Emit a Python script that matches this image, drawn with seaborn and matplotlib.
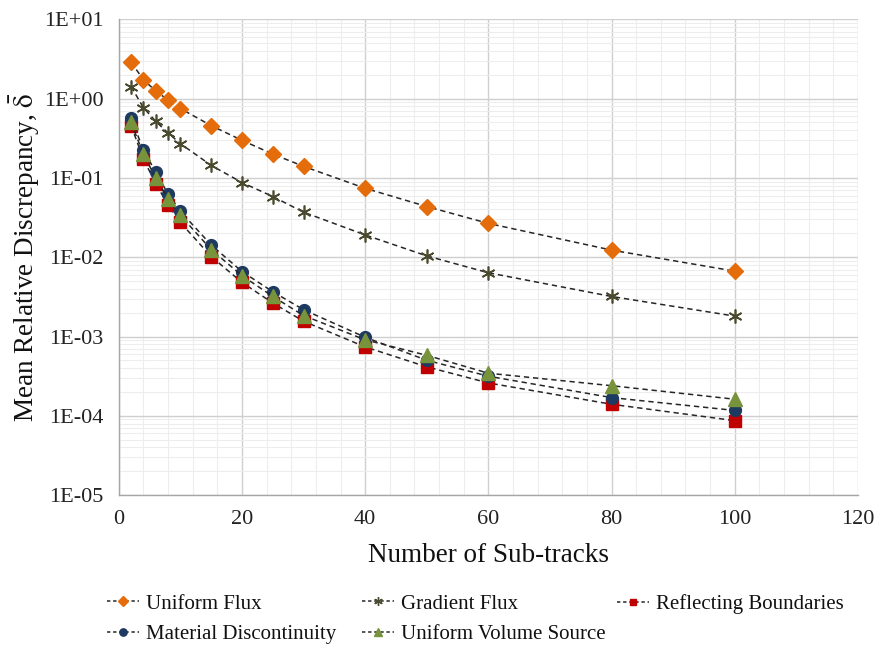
import numpy as np
import pandas as pd
import matplotlib
matplotlib.use("Agg")
import matplotlib.pyplot as plt
from matplotlib.ticker import FixedLocator, FuncFormatter, LogLocator, NullFormatter
from matplotlib.lines import Line2D
import seaborn as sns

# Number of sub-tracks
sub_tracks = [2, 4, 6, 8, 10, 15, 20, 25, 30, 40, 50, 60, 80, 100]

# Mean relative discrepancy for each test case
uniform_flux = [2.89, 1.73, 1.25, 0.96, 0.75, 0.457, 0.298, 0.20, 0.14,
                0.074, 0.0436, 0.0267, 0.0123, 0.00668]
gradient_flux = [1.42, 0.77, 0.518, 0.369, 0.271, 0.144, 0.0875, 0.0583, 0.037,
                 0.0191, 0.0104, 0.00637, 0.0032, 0.00181]
reflecting_boundaries = [0.457, 0.174, 0.0848, 0.0457, 0.0275, 0.0102, 0.00482,
                         0.00265, 0.00156, 0.00074, 0.000415, 0.00026, 0.00014, 0.000087]
material_discontinuity = [0.565, 0.227, 0.118, 0.063, 0.0379, 0.0143, 0.0066,
                          0.00368, 0.00218, 0.00098, 0.000502, 0.000316, 0.00017, 0.000117]
uniform_volume_source = [0.50, 0.20, 0.10, 0.0543, 0.0337, 0.0125, 0.00586,
                         0.00321, 0.00184, 0.00091, 0.00058, 0.000345, 0.00024, 0.000162]

series_names = ["Uniform Flux", "Gradient Flux", "Reflecting Boundaries",
                "Material Discontinuity", "Uniform Volume Source"]
series_values = [uniform_flux, gradient_flux, reflecting_boundaries,
                 material_discontinuity, uniform_volume_source]

styles = {
    "Uniform Flux": dict(marker="D", mfc="#E46C0A", mec="#E46C0A", ms=8.5, mew=1),
    "Gradient Flux": dict(marker=(6, 2, 0), mfc="#4A4A2E", mec="#4A4A2E", ms=10, mew=1.2),
    "Reflecting Boundaries": dict(marker="s", mfc="#C00000", mec="#C00000", ms=8, mew=1),
    "Material Discontinuity": dict(marker="o", mfc="#1F3A60", mec="#1F3A60", ms=8.5, mew=1),
    "Uniform Volume Source": dict(marker="^", mfc="#77933C", mec="#77933C", ms=9.5, mew=1),
}

df = pd.DataFrame({
    "x": np.tile(sub_tracks, len(series_names)),
    "y": np.concatenate(series_values),
    "case": np.repeat(series_names, len(sub_tracks)),
})

sns.set_theme(style="white")
plt.rcParams["font.family"] = ["Liberation Serif", "DejaVu Serif"]
plt.rcParams["mathtext.fontset"] = "stix"

fig = plt.figure(figsize=(8.77, 6.46), dpi=100)
ax = fig.add_axes([0.1354, 0.2335, 0.8429, 0.7366])

line_color = "#262626"
for name in series_names:
    st = styles[name]
    sns.lineplot(data=df[df["case"] == name], x="x", y="y", ax=ax,
                 color=line_color, linestyle=(0, (3.5, 2.5)), linewidth=1.1,
                 marker=st["marker"], markersize=st["ms"],
                 markerfacecolor=st["mfc"], markeredgecolor=st["mec"],
                 markeredgewidth=st["mew"], legend=False, zorder=3)

ax.set_yscale("log")
ax.set_xlim(0, 120)
ax.set_ylim(1e-5, 1e1)

ax.xaxis.set_major_locator(FixedLocator(np.arange(0, 121, 20)))
ax.xaxis.set_minor_locator(FixedLocator(np.arange(0, 121, 4)))
ax.yaxis.set_major_locator(LogLocator(base=10, numticks=10))
ax.yaxis.set_minor_locator(LogLocator(base=10, subs=np.arange(2, 10), numticks=100))
ax.yaxis.set_minor_formatter(NullFormatter())
ax.yaxis.set_major_formatter(FuncFormatter(
    lambda v, p: "1E{:+03d}".format(int(round(np.log10(v))))))

ax.grid(True, which="major", color="#CFCFCF", linewidth=1.0, zorder=0)
ax.grid(True, which="minor", color="#EDEDED", linewidth=0.8, zorder=0)
ax.set_axisbelow(True)

for side in ["top", "right"]:
    ax.spines[side].set_visible(False)
for side in ["left", "bottom"]:
    ax.spines[side].set_color("#A6A6A6")
    ax.spines[side].set_linewidth(1.0)

ax.tick_params(axis="both", which="major", direction="out", length=5, width=1,
               color="#A6A6A6", labelsize=16, labelcolor="#222222", pad=6)
ax.tick_params(axis="both", which="minor", length=0)

ax.set_xlabel("Number of Sub-tracks", fontsize=19.5, color="#111111", labelpad=10)
ax.set_ylabel(r"Mean Relative Discrepancy, $\bar{\mathrm{\delta}}$", fontsize=19.5,
              color="#111111", labelpad=1)

# Legend: three columns placed at fixed positions, filled row by row
handles = {}
for name in series_names:
    st = styles[name]
    handles[name] = Line2D([], [], color=line_color, linestyle=(0, (2.2, 1.8)),
                           linewidth=1.1, marker=st["marker"],
                           markersize=st["ms"] * 0.62, markerfacecolor=st["mfc"],
                           markeredgecolor=st["mec"], markeredgewidth=1)

legend_columns = [
    (0.122, ["Uniform Flux", "Material Discontinuity"]),
    (0.4128, ["Gradient Flux", "Uniform Volume Source"]),
    (0.7035, ["Reflecting Boundaries"]),
]
for x0, names in legend_columns:
    leg = fig.legend([handles[n] for n in names], names, loc="upper left",
                     bbox_to_anchor=(x0, 0.0805), bbox_transform=fig.transFigure,
                     frameon=False, fontsize=15, handlelength=1.55,
                     handletextpad=0.3, labelspacing=0.54, borderpad=0,
                     borderaxespad=0)
    for t in leg.get_texts():
        t.set_color("#111111")

fig.savefig("out.png", dpi=100, facecolor="white")
